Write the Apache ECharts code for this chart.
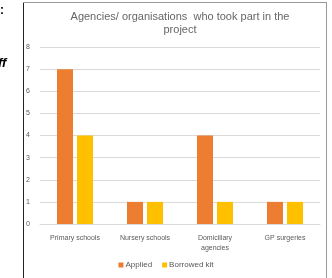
<!DOCTYPE html>
<html>
<head>
<meta charset="utf-8">
<script src="https://cdn.jsdelivr.net/npm/echarts@6/dist/echarts.min.js"></script>
<style>
  html, body { margin: 0; padding: 0; background: #fff; }
  #chart { width: 332px; height: 278px; }
</style>
</head>
<body>
<div id="chart"></div>
<script>
const categories = ['Primary schools', 'Nursery schools', 'Domiciliary\nagencies', 'GP surgeries'];
const applied = [7, 1, 4, 1];
const borrowedKit = [4, 1, 1, 1];
const yTicks = [0, 1, 2, 3, 4, 5, 6, 7, 8];

const chart = echarts.init(document.getElementById('chart'));

const labelFont = 'Liberation Sans, Arial, sans-serif';

chart.setOption({
  animation: false,
  title: {
    text: 'Agencies/ organisations  who took part in the\nproject',
    left: 175,
    textAlign: 'center',
    top: 5,
    textStyle: { fontSize: 11, fontWeight: 'normal', color: '#666', fontFamily: labelFont, lineHeight: 13 }
  },
  legend: {
    data: ['Applied', 'Borrowed kit'],
    left: 'center',
    top: 256,
    itemWidth: 5,
    itemHeight: 5,
    itemGap: 10,
    icon: 'rect',
    textStyle: { fontSize: 8, color: '#595959', fontFamily: labelFont, padding: [0, 0, 0, -3] }
  },
  grid: { left: 40, right: 12, top: 47, bottom: 54 },
  xAxis: {
    type: 'category',
    data: categories,
    axisLine: { lineStyle: { color: '#d9d9d9' } },
    axisTick: { show: false },
    axisLabel: { fontSize: 7, color: '#595959', fontFamily: labelFont, margin: 9, lineHeight: 10, interval: 0 }
  },
  yAxis: {
    type: 'value',
    min: yTicks[0],
    max: yTicks[yTicks.length - 1],
    interval: 1,
    axisLine: { show: false },
    axisTick: { show: false },
    splitLine: { lineStyle: { color: '#d9d9d9' } },
    axisLabel: { fontSize: 7, color: '#595959', fontFamily: labelFont, margin: 10 }
  },
  series: [
    {
      name: 'Applied',
      type: 'bar',
      data: applied,
      itemStyle: { color: '#ED7D31' },
      barWidth: 16,
      barGap: '25%'
    },
    {
      name: 'Borrowed kit',
      type: 'bar',
      data: borrowedKit,
      itemStyle: { color: '#FFC000' },
      barWidth: 16
    }
  ],
  graphic: [
    { type: 'line', shape: { x1: 23.5, y1: 2, x2: 23.5, y2: 278 }, style: { stroke: '#222', lineWidth: 1 } },
    { type: 'line', shape: { x1: 23, y1: 2.5, x2: 327, y2: 2.5 }, style: { stroke: '#999', lineWidth: 1 } },
    { type: 'line', shape: { x1: 326.5, y1: 2, x2: 326.5, y2: 278 }, style: { stroke: '#999', lineWidth: 1 } },
    { type: 'text', left: 0, top: 5, style: { text: ':', font: 'bold 12px Liberation Sans', fill: '#000' } },
    { type: 'text', left: -2, top: 57, style: { text: 'ff', font: 'italic bold 13px Liberation Sans', fill: '#000' } }
  ]
});
</script>
</body>
</html>
